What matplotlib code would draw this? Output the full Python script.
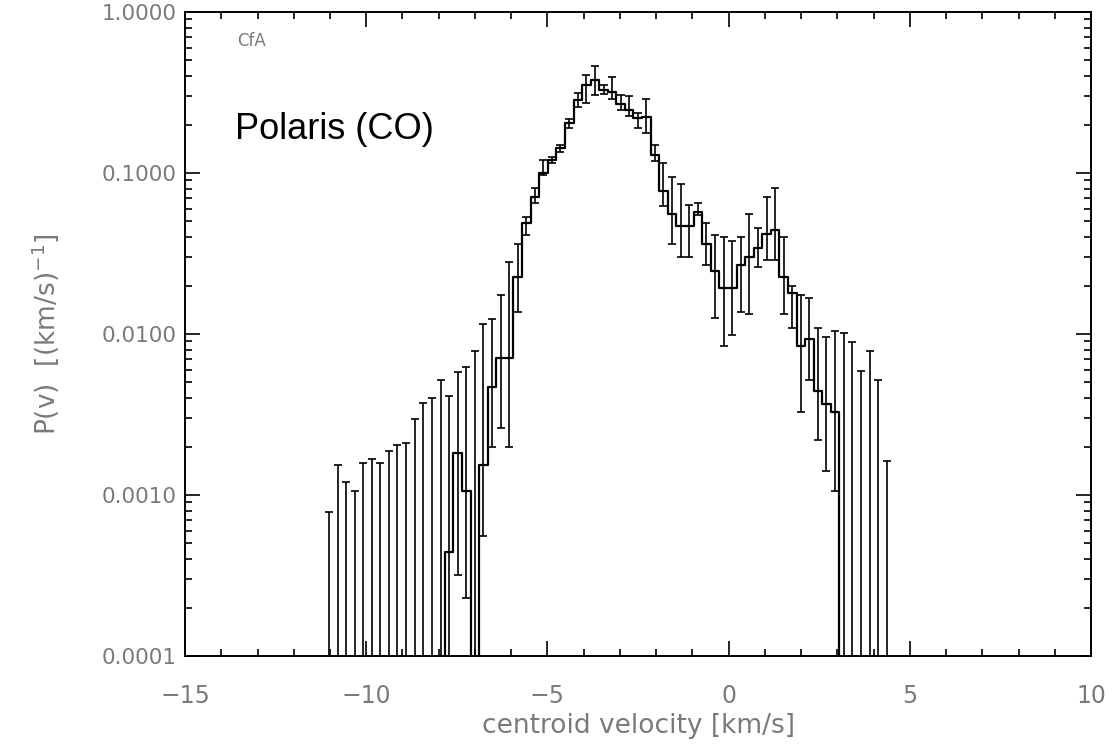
import numpy as np
import matplotlib
matplotlib.use('Agg')
import matplotlib.pyplot as plt
from matplotlib.ticker import MultipleLocator, LogLocator, FormatStrFormatter, NullFormatter

plt.rcParams.update({
    'font.family': ['DejaVu Sans'],
    'axes.linewidth': 1.4,
})

# bin centres of the velocity histogram [km/s]
velocity = [-11.03, -10.79, -10.56, -10.32, -10.08, -9.85, -9.61, -9.37, -9.14, -8.90,
            -8.66, -8.43, -8.19, -7.95, -7.71, -7.48, -7.24, -7.00, -6.77, -6.53,
            -6.29, -6.06, -5.82, -5.58, -5.35, -5.11, -4.87, -4.64, -4.40, -4.16,
            -3.93, -3.69, -3.45, -3.22, -2.98, -2.74, -2.51, -2.27, -2.03, -1.80,
            -1.56, -1.32, -1.08, -0.85, -0.61, -0.37, -0.14, 0.10, 0.34, 0.57,
            0.81, 1.05, 1.28, 1.52, 1.76, 1.99, 2.23, 2.47, 2.70, 2.94,
            3.18, 3.41, 3.65, 3.89, 4.13, 4.36]

# P(v) per bin (0 = empty bin)
pv = [0, 0, 0, 0, 0, 0, 0, 0, 0, 0,
      0, 0, 0, 0, 4.4e-4, 1.82e-3, 1.06e-3, 0, 1.54e-3, 4.7e-3,
      7.1e-3, 7.1e-3, 0.0227, 0.049, 0.071, 0.10, 0.12, 0.142, 0.204, 0.284,
      0.352, 0.378, 0.33, 0.32, 0.27, 0.246, 0.22, 0.224, 0.13, 0.077,
      0.056, 0.047, 0.047, 0.057, 0.036, 0.0245, 0.0193, 0.0193, 0.027, 0.030,
      0.034, 0.042, 0.044, 0.0227, 0.018, 0.0084, 0.0093, 0.0044, 0.0037, 0.0033,
      0, 0, 0, 0, 0, 0]

# upper end of the error bars
pv_upper = [7.9e-4, 1.53e-3, 1.20e-3, 1.06e-3, 1.57e-3, 1.68e-3, 1.57e-3, 1.88e-3, 2.05e-3, 2.11e-3,
            2.98e-3, 3.74e-3, 4.0e-3, 5.2e-3, 4.1e-3, 5.8e-3, 6.2e-3, 7.8e-3, 1.15e-2, 1.24e-2,
            1.74e-2, 2.8e-2, 0.036, 0.0535, 0.0805, 0.12, 0.126, 0.149, 0.218, 0.313,
            0.406, 0.464, 0.35, 0.396, 0.305, 0.30, 0.235, 0.29, 0.149, 0.115,
            0.095, 0.086, 0.063, 0.065, 0.049, 0.041, 0.040, 0.0376, 0.040, 0.0557,
            0.0455, 0.0707, 0.0805, 0.040, 0.020, 0.0174, 0.0168, 0.0109, 0.0096, 0.0105,
            0.0102, 0.0089, 0.0059, 0.0078, 0.0052, 0.00163]

# lower end of the error bars (0 = reaches below the plot)
pv_lower = [0, 0, 0, 0, 0, 0, 0, 0, 0, 0,
            0, 0, 0, 0, 0, 3.2e-4, 2.3e-4, 0, 5.6e-4, 2.0e-3,
            2.6e-3, 2.0e-3, 0.0138, 0.041, 0.065, 0.097, 0.115, 0.136, 0.19, 0.258,
            0.273, 0.305, 0.31, 0.29, 0.246, 0.225, 0.19, 0.177, 0.118, 0.062,
            0.036, 0.030, 0.030, 0.055, 0.027, 0.0125, 0.0084, 0.0099, 0.0138, 0.0134,
            0.026, 0.0288, 0.0288, 0.0134, 0.0109, 0.0033, 0.0052, 0.0022, 0.0014, 0.00106,
            0, 0, 0, 0, 0, 0]

v = np.array(velocity)
p = np.array(pv, dtype=float)
hi = np.array(pv_upper)
lo = np.array(pv_lower, dtype=float)

# empty bins / open-ended bars drop below the log axis
tiny = 1e-7
p_plot = np.where(p > 0, p, tiny)
lo_plot = np.where(lo > 0, lo, tiny)

fig = plt.figure(figsize=(11.12, 7.46), dpi=100)
ax = fig.add_axes([0.1664, 0.1206, 0.8147, 0.8633])

ax.step(v, p_plot, where='mid', color='black', lw=1.6)
ax.errorbar(v, p_plot, yerr=[p_plot - lo_plot, hi - p_plot], fmt='none',
            ecolor='black', elinewidth=1.2, capsize=2.6, capthick=1.2)

ax.set_yscale('log')
ax.set_xlim(-15, 10)
ax.set_ylim(1e-4, 1)

ax.xaxis.set_major_locator(MultipleLocator(5))
ax.xaxis.set_minor_locator(MultipleLocator(1))
ax.yaxis.set_major_locator(LogLocator(base=10))
ax.yaxis.set_minor_locator(LogLocator(base=10, subs=np.arange(2, 10)))
ax.yaxis.set_major_formatter(FormatStrFormatter('%.4f'))
ax.yaxis.set_minor_formatter(NullFormatter())

grey = '#7a7a7a'
ax.tick_params(which='both', direction='in', top=True, right=True, colors='black',
               labelcolor=grey, labelsize=15.5)
ax.tick_params(which='major', length=10.5, width=1.2)
ax.tick_params(which='minor', length=5, width=1.2)
ax.tick_params(axis='x', which='major', pad=20, labelsize=17)
ax.tick_params(axis='y', which='major', pad=6)

ax.set_xlabel('centroid velocity [km/s]', color=grey, fontsize=19, labelpad=4)
ax.set_ylabel(r'P(v)  [(km/s)$^{-1}$]', color=grey, fontsize=19, labelpad=29)

ax.text(0.057, 0.955, 'CfA', transform=ax.transAxes, color=grey, fontsize=12,
        va='center', ha='left')
ax.text(0.055, 0.817, 'Polaris (CO)', transform=ax.transAxes, color='black',
        fontsize=26, family='Liberation Sans', va='center', ha='left')

fig.savefig('out.png', dpi=100)
